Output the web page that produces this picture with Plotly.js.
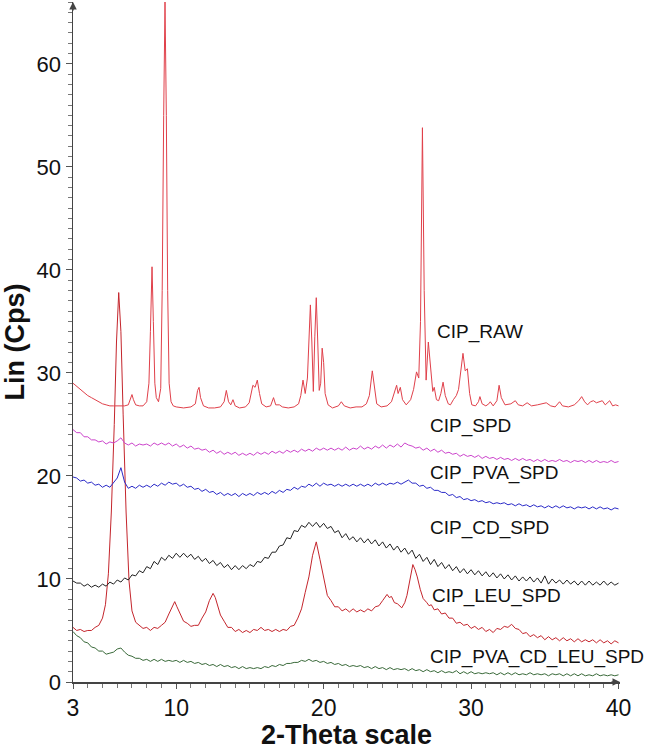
<!DOCTYPE html>
<html>
<head>
<meta charset="utf-8">
<script src="https://cdn.plot.ly/plotly-3.0.1.min.js"></script>
<style>
  html, body { margin: 0; padding: 0; background: #fff; }
  #xrdChart { width: 646px; height: 744px; }
</style>
</head>
<body>
<div id="xrdChart"></div>
<script>
// XRD patterns, 2-Theta vs Lin (Cps)

// shared 2-theta grid for the amorphous patterns
const twoTheta = [
  3, 3.25, 3.5, 3.75, 4, 4.25, 4.5, 4.75, 5, 5.25, 5.5, 5.75, 6, 6.25, 6.5, 6.75,
  7, 7.25, 7.5, 7.75, 8, 8.25, 8.5, 8.75, 9, 9.25, 9.5, 9.75, 10, 10.25, 10.5, 10.75,
  11, 11.25, 11.5, 11.75, 12, 12.25, 12.5, 12.75, 13, 13.25, 13.5, 13.75, 14, 14.25, 14.5, 14.75,
  15, 15.25, 15.5, 15.75, 16, 16.25, 16.5, 16.75, 17, 17.25, 17.5, 17.75, 18, 18.25, 18.5, 18.75,
  19, 19.25, 19.5, 19.75, 20, 20.25, 20.5, 20.75, 21, 21.25, 21.5, 21.75, 22, 22.25, 22.5, 22.75,
  23, 23.25, 23.5, 23.75, 24, 24.25, 24.5, 24.75, 25, 25.25, 25.5, 25.75, 26, 26.25, 26.5, 26.75,
  27, 27.25, 27.5, 27.75, 28, 28.25, 28.5, 28.75, 29, 29.25, 29.5, 29.75, 30, 30.25, 30.5, 30.75,
  31, 31.25, 31.5, 31.75, 32, 32.25, 32.5, 32.75, 33, 33.25, 33.5, 33.75, 34, 34.25, 34.5, 34.75,
  35, 35.25, 35.5, 35.75, 36, 36.25, 36.5, 36.75, 37, 37.25, 37.5, 37.75, 38, 38.25, 38.5, 38.75,
  39, 39.25, 39.5, 39.75, 40
];

const spdY = [
  24.5, 24.2, 24.2, 23.8, 23.8, 23.5, 23.5, 23.3, 23.4, 23.1, 23.3, 23.2, 23.4, 23.7, 23.2, 23.0,
  23.2, 22.9, 23.1, 23.0, 23.1, 22.9, 23.2, 23.0, 23.2, 23.0, 23.2, 22.9, 23.1, 22.8, 23.0, 22.7,
  22.9, 22.6, 22.7, 22.5, 22.6, 22.3, 22.5, 22.2, 22.4, 22.1, 22.3, 22.1, 22.3, 22.0, 22.2, 22.0,
  22.2, 22.0, 22.3, 22.1, 22.3, 22.1, 22.4, 22.2, 22.4, 22.2, 22.5, 22.3, 22.5, 22.3, 22.6, 22.4,
  22.6, 22.4, 22.7, 22.5, 22.7, 22.5, 22.7, 22.5, 22.7, 22.5, 22.8, 22.5, 22.7, 22.6, 22.9, 22.6,
  22.8, 22.6, 22.9, 22.7, 23.0, 22.7, 23.0, 22.8, 23.1, 22.8, 23.2, 23.0, 22.9, 22.7, 22.8, 22.5,
  22.7, 22.4, 22.6, 22.3, 22.5, 22.2, 22.3, 22.1, 22.2, 21.9, 22.1, 21.9, 22.0, 21.8, 22.0, 21.7,
  21.9, 21.7, 21.8, 21.6, 21.8, 21.6, 21.7, 21.5, 21.7, 21.5, 21.7, 21.5, 21.6, 21.4, 21.6, 21.4,
  21.6, 21.4, 21.5, 21.4, 21.6, 21.4, 21.5, 21.3, 21.5, 21.4, 21.5, 21.3, 21.5, 21.3, 21.5, 21.3,
  21.4, 21.3, 21.5, 21.3, 21.4
];

const pvaSpdY = [
  19.9, 19.8, 19.5, 19.6, 19.3, 19.4, 19.1, 19.2, 18.9, 19.1, 18.9, 19.3, 19.8, 20.8, 19.4, 18.8,
  19.0, 18.8, 19.1, 18.9, 19.1, 18.9, 19.2, 19.0, 19.3, 19.1, 19.4, 19.2, 19.3, 19.0, 19.2, 18.9,
  19.0, 18.7, 18.8, 18.5, 18.7, 18.4, 18.5, 18.2, 18.4, 18.1, 18.3, 18.1, 18.3, 18.0, 18.3, 18.1,
  18.3, 18.1, 18.4, 18.2, 18.4, 18.2, 18.5, 18.3, 18.6, 18.4, 18.7, 18.6, 18.9, 18.7, 19.0, 18.9,
  19.2, 19.0, 19.3, 19.0, 19.3, 19.1, 19.2, 19.0, 19.2, 19.0, 19.2, 19.0, 19.2, 19.0, 19.2, 19.0,
  19.2, 19.0, 19.3, 19.1, 19.3, 19.1, 19.3, 19.2, 19.4, 19.2, 19.4, 19.6, 19.3, 19.3, 19.0, 19.1,
  18.8, 18.9, 18.6, 18.6, 18.4, 18.4, 18.1, 18.2, 17.9, 18.0, 17.7, 17.8, 17.6, 17.7, 17.5, 17.6,
  17.4, 17.5, 17.3, 17.4, 17.3, 17.4, 17.2, 17.3, 17.1, 17.3, 17.1, 17.2, 17.0, 17.2, 17.0, 17.1,
  16.9, 17.1, 16.9, 17.1, 16.9, 17.1, 16.9, 17.0, 16.8, 17.0, 16.9, 17.0, 16.8, 17.0, 16.8, 17.0,
  16.8, 16.9, 16.7, 16.9, 16.8
];

const cdSpdY = [
  9.8, 9.6, 9.6, 9.3, 9.5, 9.2, 9.4, 9.2, 9.5, 9.3, 9.7, 9.5, 9.9, 9.7, 10.1, 9.9,
  10.4, 10.3, 10.8, 10.6, 11.2, 11.0, 11.7, 11.4, 12.1, 11.8, 12.3, 12.0, 12.5, 12.1, 12.5, 12.1,
  12.4, 11.9, 12.2, 11.7, 12.0, 11.5, 11.8, 11.3, 11.6, 11.1, 11.4, 10.9, 11.3, 10.9, 11.3, 11.0,
  11.4, 11.2, 11.7, 11.6, 12.1, 12.0, 12.6, 12.6, 13.2, 13.3, 14.0, 13.9, 14.7, 14.6, 15.2, 15.0,
  15.5, 15.1, 15.5, 15.0, 15.4, 14.9, 15.1, 14.5, 14.7, 14.0, 14.4, 13.8, 14.1, 13.6, 14.0, 13.5,
  13.9, 13.4, 13.8, 13.2, 13.6, 13.0, 13.4, 12.8, 13.2, 12.6, 13.0, 12.4, 12.8, 12.0, 12.4, 11.7,
  12.1, 11.4, 11.9, 11.2, 11.6, 11.0, 11.4, 10.8, 11.2, 10.6, 11.0, 10.5, 10.9, 10.4, 10.8, 10.3,
  10.7, 10.2, 10.6, 10.1, 10.5, 10.0, 10.4, 9.9, 10.3, 9.8, 10.2, 9.8, 10.2, 9.7, 10.1, 9.6,
  10.3, 9.5, 10.0, 9.6, 9.9, 9.5, 9.9, 9.5, 9.8, 9.4, 9.8, 9.4, 9.8, 9.4, 9.7, 9.4,
  9.8, 9.4, 9.7, 9.4, 9.6
];

const pvaCdLeuSpdY = [
  4.9, 4.5, 4.3, 3.9, 3.8, 3.4, 3.3, 3.0, 3.0, 2.7, 2.8, 2.9, 3.2, 3.3, 2.9, 2.6,
  2.5, 2.3, 2.3, 2.1, 2.2, 2.0, 2.2, 2.0, 2.2, 2.0, 2.1, 2.0, 2.1, 1.9, 2.1, 1.9,
  2.0, 1.8, 1.9, 1.7, 1.8, 1.6, 1.7, 1.5, 1.7, 1.5, 1.6, 1.4, 1.5, 1.3, 1.5, 1.3,
  1.4, 1.3, 1.4, 1.3, 1.5, 1.4, 1.6, 1.5, 1.7, 1.6, 1.8, 1.8, 1.9, 1.9, 2.1, 2.0,
  2.2, 2.0, 2.1, 1.9, 2.0, 1.8, 1.9, 1.7, 1.8, 1.6, 1.7, 1.5, 1.6, 1.5, 1.6, 1.4,
  1.5, 1.3, 1.5, 1.3, 1.4, 1.2, 1.4, 1.2, 1.3, 1.2, 1.3, 1.1, 1.3, 1.1, 1.2, 1.0,
  1.2, 1.0, 1.1, 0.9, 1.1, 0.9, 1.0, 0.9, 1.1, 0.8, 1.0, 0.8, 1.0, 0.8, 0.9, 0.8,
  0.9, 0.8, 0.9, 0.7, 0.9, 0.7, 0.9, 0.7, 0.9, 0.7, 0.8, 0.7, 0.9, 0.7, 0.8, 0.7,
  0.8, 0.6, 0.8, 0.7, 0.8, 0.6, 0.8, 0.6, 0.8, 0.6, 0.8, 0.6, 0.7, 0.6, 0.8, 0.6,
  0.7, 0.6, 0.7, 0.6, 0.7
];

// crystalline patterns need their own, denser angles around the peaks
const leuX = [
  3, 3.25, 3.5, 3.75, 4, 4.25, 4.5, 4.75, 5, 5.2, 5.4, 5.6, 5.8, 5.95, 6.1, 6.25,
  6.4, 6.6, 6.8, 7, 7.25, 7.5, 7.75, 8, 8.25, 8.5, 8.75, 9, 9.25, 9.5, 9.75, 9.9,
  10.05, 10.25, 10.5, 10.75, 11, 11.25, 11.5, 11.75, 12, 12.25, 12.5, 12.65, 12.85, 13, 13.25, 13.5,
  13.75, 14, 14.25, 14.5, 14.75, 15, 15.25, 15.5, 15.75, 16, 16.25, 16.5, 16.75, 17, 17.25, 17.5,
  17.75, 18, 18.25, 18.5, 18.75, 19, 19.25, 19.5, 19.75, 20, 20.25, 20.5, 20.75, 21, 21.25, 21.5,
  21.75, 22, 22.25, 22.5, 22.75, 23, 23.25, 23.5, 23.75, 24, 24.3, 24.45, 24.6, 24.8, 25, 25.3,
  25.5, 25.65, 25.85, 26.05, 26.2, 26.35, 26.55, 26.75, 27, 27.15, 27.3, 27.5, 27.75, 28, 28.25, 28.5,
  28.75, 29, 29.25, 29.5, 29.75, 30, 30.25, 30.5, 30.75, 31, 31.25, 31.5, 31.75, 32, 32.25, 32.5,
  32.75, 33, 33.25, 33.5, 33.75, 34, 34.25, 34.5, 34.75, 35, 35.25, 35.5, 35.75, 36, 36.25, 36.5,
  36.75, 37, 37.25, 37.5, 37.75, 38, 38.25, 38.5, 38.75, 39, 39.25, 39.5, 39.75, 40
];
const leuY = [
  5.3, 5.0, 5.1, 4.9, 5.0, 5.0, 5.3, 5.5, 6.2, 7.5, 10.5, 16.5, 25.0, 33.0, 37.8, 34.0,
  26.0, 16.5, 9.8, 6.9, 5.8, 5.5, 5.2, 5.3, 5.0, 5.3, 5.2, 5.5, 5.8, 6.6, 7.4, 7.8,
  7.3, 6.7, 5.9, 5.7, 5.4, 5.5, 5.5, 6.2, 6.8, 7.9, 8.6, 8.2, 7.3, 6.5, 5.9, 5.3,
  5.3, 4.9, 5.1, 4.8, 5.0, 4.8, 5.1, 5.0, 5.3, 5.0, 5.1, 4.9, 5.1, 4.9, 5.1, 5.0,
  5.4, 5.5, 6.2, 7.1, 8.7, 10.2, 12.3, 13.6, 11.9, 10.1, 8.4, 7.9, 7.3, 7.3, 6.9, 7.1,
  6.8, 7.1, 6.8, 7.0, 6.8, 7.1, 6.9, 7.3, 7.4, 7.9, 8.5, 8.2, 8.3, 7.7, 7.6, 7.2,
  7.7, 8.4, 9.9, 11.4, 10.9, 10.2, 9.0, 8.1, 7.7, 7.4, 7.5, 7.0, 7.1, 6.6, 6.7, 6.2,
  6.2, 5.7, 5.8, 5.5, 5.6, 5.2, 5.4, 5.1, 5.3, 4.9, 5.1, 4.8, 5.2, 5.1, 5.4, 5.3,
  5.6, 5.2, 5.1, 4.7, 4.8, 4.4, 4.6, 4.3, 4.5, 4.1, 4.4, 4.1, 4.3, 4.0, 4.3, 4.0,
  4.2, 3.9, 4.2, 3.9, 4.1, 3.9, 4.1, 3.8, 4.1, 3.8, 4.0, 3.7, 4.0, 3.8
];

const rawX = [
  3, 3.25, 3.5, 3.75, 4, 4.25, 4.5, 4.75, 5, 5.25, 5.5, 5.75, 6, 6.25, 6.5, 6.75,
  6.9, 7, 7.1, 7.25, 7.5, 7.75, 8, 8.15, 8.25, 8.36, 8.45, 8.55, 8.65, 8.8, 8.95, 9.05,
  9.15, 9.24, 9.33, 9.42, 9.52, 9.65, 9.8, 10, 10.5, 11, 11.3, 11.45, 11.55, 11.65, 11.85, 12.2,
  12.6, 13, 13.25, 13.4, 13.55, 13.7, 13.85, 14, 14.3, 14.7, 14.95, 15.1, 15.2, 15.35, 15.5, 15.65,
  15.8, 16.1, 16.4, 16.6, 16.75, 17, 17.2, 17.6, 18, 18.3, 18.45, 18.6, 18.75, 18.9, 19.02, 19.1,
  19.2, 19.3, 19.4, 19.5, 19.6, 19.7, 19.8, 19.9, 20, 20.1, 20.3, 20.6, 21, 21.2, 21.4, 21.8,
  22.2, 22.6, 22.9, 23.1, 23.3, 23.45, 23.6, 23.9, 24.3, 24.6, 24.8, 24.95, 25.05, 25.2, 25.35, 25.6,
  25.9, 26.1, 26.3, 26.45, 26.57, 26.7, 26.82, 26.95, 27.1, 27.25, 27.4, 27.5, 27.65, 27.8, 27.95, 28.1,
  28.25, 28.45, 28.6, 28.8, 29, 29.15, 29.3, 29.45, 29.6, 29.75, 29.9, 30.05, 30.3, 30.5, 30.6, 30.75,
  31, 31.2, 31.3, 31.5, 31.75, 31.9, 32.05, 32.3, 32.7, 33, 33.2, 33.5, 33.8, 34.1, 34.5, 34.8,
  35.1, 35.4, 35.7, 36, 36.2, 36.6, 37, 37.3, 37.5, 37.7, 37.9, 38.1, 38.3, 38.5, 38.7, 38.9,
  39.1, 39.4, 39.6, 39.8, 40
];
const rawY = [
  29.0, 28.7, 28.4, 28.1, 27.8, 27.6, 27.4, 27.2, 27.0, 26.9, 26.8, 26.8, 26.8, 26.75, 26.8, 26.9,
  27.5, 27.9, 27.4, 26.9, 26.8, 26.8, 27.2, 29.0, 34.0, 40.3, 35.0, 29.0, 27.6, 27.2, 28.5, 38.0,
  55.0, 66.0, 55.0, 38.0, 29.0, 27.2, 26.8, 26.7, 26.6, 26.7, 27.0, 28.3, 28.6, 27.6, 26.8, 26.6,
  26.6, 26.7, 27.2, 28.3, 27.2, 26.9, 27.4, 26.8, 26.6, 26.7, 27.1, 28.2, 28.8, 28.6, 29.3, 28.0,
  27.0, 26.7, 26.8, 27.6, 26.9, 26.9, 26.7, 26.6, 26.7, 27.0, 27.8, 29.3, 28.0, 29.5, 35.0, 36.6,
  33.0, 28.2, 33.5, 37.3, 33.0, 28.3, 29.0, 32.4, 31.0, 28.0, 26.9, 26.6, 26.8, 27.2, 26.8, 26.6,
  26.7, 26.7, 27.0, 27.8, 30.2, 28.4, 27.0, 26.7, 26.8, 27.2, 28.0, 28.8, 28.0, 28.6, 27.4, 26.9,
  27.4, 28.4, 30.1, 29.5, 35.0, 53.8, 38.0, 29.3, 33.0, 30.2, 28.2, 28.6, 27.4, 27.3, 28.0, 29.1,
  27.8, 27.0, 26.9, 27.4, 27.8, 28.4, 30.0, 31.9, 30.2, 30.4, 28.0, 26.9, 26.8, 27.2, 27.7, 27.0,
  26.8, 27.0, 27.2, 26.8, 27.3, 28.8, 27.6, 26.9, 27.0, 27.3, 26.9, 26.8, 27.1, 26.8, 26.9, 27.0,
  27.1, 26.8, 26.7, 27.2, 26.8, 26.7, 26.9, 27.3, 27.7, 27.2, 26.9, 27.2, 27.3, 27.1, 27.2, 27.3,
  26.9, 27.3, 26.8, 26.9, 26.8
];

const seriesNames = ['CIP_RAW', 'CIP_SPD', 'CIP_PVA_SPD', 'CIP_CD_SPD', 'CIP_LEU_SPD', 'CIP_PVA_CD_LEU_SPD'];
const seriesColors = ['#e0404a', '#cc44cc', '#2a2ac8', '#222222', '#c4252c', '#3a6a3a'];
// where each pattern's name is written (2-theta, Cps)
const labelX = [27.55, 27.05, 27.05, 27.05, 27.2, 27.05];
const labelY = [34.0, 24.8, 20.3, 14.95, 8.35, 2.45];

function createXrdChart(chartID) {
    const xs = [rawX, twoTheta, twoTheta, twoTheta, leuX, twoTheta];
    const ys = [rawY, spdY, pvaSpdY, cdSpdY, leuY, pvaCdLeuSpdY];

    // draw order: LEU peak sits under the others
    const order = [4, 0, 1, 2, 3, 5];
    const traces = order.map(i => ({
        x: xs[i],
        y: ys[i],
        type: 'scatter',
        mode: 'lines',
        name: seriesNames[i],
        line: { color: seriesColors[i], width: 1 },
        hoverinfo: 'skip'
    }));

    const annotations = seriesNames.map((name, i) => ({
        x: labelX[i],
        y: labelY[i],
        xref: 'x',
        yref: 'y',
        text: name,
        showarrow: false,
        xanchor: 'left',
        yanchor: 'middle',
        font: { size: 19, color: '#111' }
    }));

    // x axis title placed by hand, the axis title gets squeezed into the margin
    annotations.push({
        x: 0.5, y: 0, xref: 'paper', yref: 'paper',
        yshift: -37, xanchor: 'center', yanchor: 'top',
        borderpad: 0,
        text: '<b>2-Theta scale</b>', showarrow: false,
        font: { size: 27, color: '#111' }
    });

    // little arrow heads on the axis ends
    annotations.push({
        x: 0, y: 1, xref: 'paper', yref: 'paper', text: '',
        showarrow: true, ax: 0, ay: 10, arrowhead: 2, arrowsize: 1,
        arrowwidth: 1.5, arrowcolor: '#444'
    });
    annotations.push({
        x: 1, y: 0, xref: 'paper', yref: 'paper', text: '',
        showarrow: true, ax: -10, ay: 0, arrowhead: 2, arrowsize: 1,
        arrowwidth: 1.5, arrowcolor: '#444'
    });

    const layout = {
        width: 646,
        height: 744,
        showlegend: false,
        paper_bgcolor: '#fff',
        plot_bgcolor: '#fff',
        font: { family: 'Liberation Sans, Arial, sans-serif', color: '#111' },
        margin: { t: 2, r: 26, b: 62, l: 73 },
        xaxis: {
            range: [3, 40.1],
            tickmode: 'array',
            tickvals: [3, 10, 20, 30, 40],
            ticks: 'outside',
            ticklen: 5,
            tickwidth: 1,
            tickcolor: '#555',
            tickfont: { size: 23 },
            minor: { dtick: 1, tick0: 0, ticks: 'outside', ticklen: 4, tickcolor: '#777' },
            showline: true,
            linecolor: '#444',
            linewidth: 1.5,
            showgrid: false,
            zeroline: false,
            automargin: false
        },
        yaxis: {
            range: [0, 66],
            tickmode: 'array',
            tickvals: [0, 10, 20, 30, 40, 50, 60],
            ticks: 'outside',
            ticklen: 6,
            tickwidth: 1,
            tickcolor: '#555',
            tickfont: { size: 22 },
            minor: { dtick: 1, tick0: 0, ticks: 'outside', ticklen: 4, tickcolor: '#777' },
            showline: true,
            linecolor: '#444',
            linewidth: 1.5,
            showgrid: false,
            zeroline: false,
            automargin: false,
            title: { text: '<b>Lin (Cps)</b>', font: { size: 27 }, standoff: 6 }
        },
        annotations: annotations
    };

    Plotly.newPlot(chartID, traces, layout, { displayModeBar: false, staticPlot: true });
}

createXrdChart('xrdChart');
</script>
</body>
</html>
